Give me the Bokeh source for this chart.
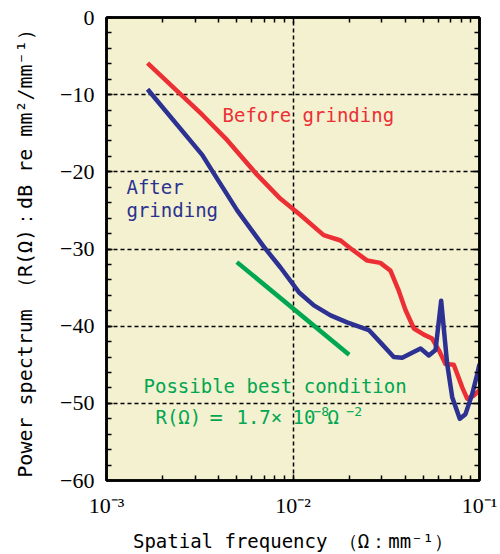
from bokeh.plotting import figure
from bokeh.models import FixedTicker, LogAxis, LinearAxis, Label, CustomJSTickFormatter
from bokeh.embed import file_html
from bokeh.resources import INLINE

# ---- data ----
before_x = [1.66e-3, 3.26e-3, 4.44e-3, 6.43e-3, 8.57e-3, 1.096e-2, 1.46e-2, 1.80e-2, 2.03e-2,
            2.50e-2, 2.94e-2, 3.33e-2, 3.69e-2, 4.01e-2, 4.45e-2, 5.03e-2, 5.57e-2,
            6.05e-2, 6.57e-2, 7.28e-2, 8.07e-2, 8.59e-2, 9.31e-2, 1.0e-1]
before_y = [-5.9, -12.6, -15.9, -20.4, -23.5, -25.6, -28.2, -28.9, -29.9,
            -31.5, -31.8, -32.8, -35.4, -37.9, -40.3, -41.1, -41.6,
            -43.1, -44.9, -45.0, -47.9, -49.4, -49.0, -48.3]

after_x = [1.66e-3, 3.26e-3, 3.76e-3, 5.02e-3, 6.97e-3, 8.57e-3, 1.075e-2, 1.294e-2, 1.59e-2,
           1.95e-2, 2.55e-2, 2.94e-2, 3.47e-2, 3.85e-2, 4.83e-2, 5.35e-2, 5.81e-2,
           6.23e-2, 6.71e-2, 7.14e-2, 7.84e-2, 8.41e-2, 9.14e-2, 9.73e-2, 1.0e-1]
after_y = [-9.3, -17.8, -20.2, -25.0, -29.7, -32.4, -35.6, -37.3, -38.6,
           -39.5, -40.5, -42.1, -44.0, -44.1, -42.9, -43.8, -43.1,
           -36.7, -44.9, -49.2, -52.0, -51.4, -48.8, -46.2, -44.9]

best_x = [5.0e-3, 2.0e-2]
best_y = [-31.7, -43.7]

x_major = [1e-3, 1e-2, 1e-1]
x_tick_text = {"3": "10\u207b\u00b3", "2": "10\u207b\u00b2", "1": "10\u207b\u00b9"}
y_major = [0, -10, -20, -30, -40, -50, -60]

# ---- style ----
RED = "#ec2f35"
BLUE = "#2c3192"
GREEN = "#00a651"
BG = "#f3f1cf"
MONO = "DejaVu Sans Mono"
NARROW = "Liberation Sans Narrow"

x_minor = [m * d for d in (1e-3, 1e-2) for m in range(2, 10)]
y_minor = list(range(-60, 1, 2))

p = figure(width=500, height=554, x_axis_type="log", x_range=(1e-3, 1e-1), y_range=(-60, 0),
           output_backend="svg", toolbar_location=None,
           min_border_left=106, min_border_right=21, min_border_top=17, min_border_bottom=74)
p.background_fill_color = BG
p.border_fill_color = "white"
p.outline_line_color = "black"
p.outline_line_width = 2.5

xt = FixedTicker(ticks=x_major, minor_ticks=x_minor)
yt = FixedTicker(ticks=y_major, minor_ticks=y_minor)
blank = CustomJSTickFormatter(code="return '';")

for ax in (p.xaxis[0], p.yaxis[0]):
    ax.axis_line_width = 2.5
    ax.axis_line_color = "black"
    ax.major_tick_in = 6
    ax.major_tick_out = 0
    ax.minor_tick_in = 5
    ax.minor_tick_out = 0
    ax.major_tick_line_width = 1.5
    ax.minor_tick_line_width = 1.5
    ax.major_label_text_font = NARROW
    ax.major_label_text_font_size = "22px"
    ax.major_label_text_color = "black"
    ax.axis_label_text_font = MONO
    ax.axis_label_text_font_size = "19px"
    ax.axis_label_text_font_style = "normal"
    ax.axis_label_text_color = "black"

p.xaxis[0].ticker = xt
p.xaxis[0].formatter = CustomJSTickFormatter(
    args=dict(txt=x_tick_text),
    code="const e = String(Math.round(-Math.log10(tick))); return txt[e];")
p.xaxis[0].major_label_standoff = 12
p.xaxis[0].axis_label = "Spatial frequency \uff08\u03a9\uff1amm\u207b\u00b9\uff09"
p.xaxis[0].axis_label_standoff = 9

p.yaxis[0].ticker = yt
p.yaxis[0].formatter = CustomJSTickFormatter(
    code="return tick == 0 ? '0' : '\u2212' + Math.abs(tick).toFixed(0);")
p.yaxis[0].major_label_standoff = 12
p.yaxis[0].axis_label = "Power spectrum \uff08R(\u03a9)\uff1adB re mm\u00b2/mm\u207b\u00b9\uff09"
p.yaxis[0].axis_label_text_font_size = "20px"
p.yaxis[0].axis_label_standoff = 20

top = LogAxis(ticker=xt, formatter=blank)
right = LinearAxis(ticker=yt, formatter=blank)
for ax in (top, right):
    ax.axis_line_width = 2.5
    ax.axis_line_color = "black"
    ax.major_tick_in = 6
    ax.major_tick_out = 0
    ax.minor_tick_in = 5
    ax.minor_tick_out = 0
    ax.major_tick_line_width = 1.5
    ax.minor_tick_line_width = 1.5
    ax.major_label_text_font_size = "8px"
    ax.major_label_standoff = 0
p.add_layout(top, "above")
p.add_layout(right, "right")

p.xgrid.ticker = FixedTicker(ticks=[1e-2])
p.ygrid.ticker = FixedTicker(ticks=[-10, -20, -30, -40, -50])
for g in (p.xgrid[0], p.ygrid[0]):
    g.grid_line_color = "black"
    g.grid_line_dash = "4 3"
    g.grid_line_width = 1.5

p.line(before_x, before_y, line_color=RED, line_width=4.5, line_join="round")
p.line(after_x, after_y, line_color=BLUE, line_width=4.5, line_join="round")
p.line(best_x, best_y, line_color=GREEN, line_width=4.5)

labels = [
    ("Before grinding", 4.19e-3, -12.6, RED),
    ("After", 1.28e-3, -22.0, BLUE),
    ("grinding", 1.28e-3, -25.0, BLUE),
    ("Possible best condition", 1.58e-3, -47.7, GREEN),
]
for txt, lx, ly, col in labels:
    p.add_layout(Label(x=lx, y=ly, text=txt, text_color=col, text_font=MONO,
                       text_font_size="19px", text_baseline="middle", text_align="left"))

# equation R(Ω)=1.7×10^-8 Ω^-2, composed of normal and raised pieces
eq_x, eq_y = 1.83e-3, -51.8
eq_parts = [("R(\u03a9)", 19, 0, 0),
            ("=", 22, 54, 0),
            ("1.7\u00d7", 19, 81, 0),
            ("10", 19, 137, 0),
            ("\u22128", 13, 158, 6),
            ("\u03a9", 19, 172, 0),
            ("\u22122", 13, 191, 6)]
for txt, fs, dx, dy in eq_parts:
    p.add_layout(Label(x=eq_x, y=eq_y, text=txt, text_color=GREEN, text_font=MONO,
                       text_font_size="%dpx" % fs, text_baseline="middle", text_align="left",
                       x_offset=dx, y_offset=dy))

open("out.html", "w").write(file_html(p, INLINE))
